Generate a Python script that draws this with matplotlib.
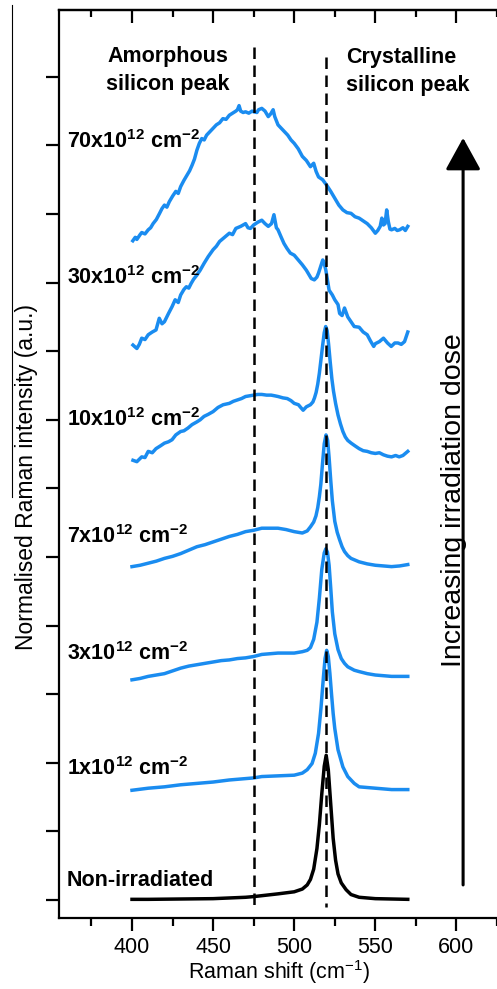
import numpy as np
import matplotlib
matplotlib.use("Agg")
import matplotlib.pyplot as plt
from matplotlib.lines import Line2D

plt.rcParams['font.family'] = ['Liberation Sans', 'DejaVu Sans']
plt.rcParams['mathtext.fontset'] = 'custom'
plt.rcParams['mathtext.rm'] = 'Liberation Sans'
plt.rcParams['mathtext.it'] = 'Liberation Sans:italic'
plt.rcParams['mathtext.bf'] = 'Liberation Sans:bold'

# Raman spectra (stacked, offset)
x_70 = [400.5, 402, 403, 405, 406, 408, 410, 411.5, 413, 415, 417, 418.5, 420, 421.5, 423, 425, 427, 428.5,
        430, 432, 434, 435.5, 437, 438.5, 440, 441.5, 443, 444.5, 446, 448, 450, 452, 454, 456, 458,
        460, 462, 464, 465, 466, 467, 468.5, 470, 472, 474, 475, 477, 478, 480, 482, 484, 485.5, 487,
        488, 490, 492, 494, 496, 498, 500, 502.5, 505, 507.5, 510, 512, 513.5, 515, 517.5, 520, 522.5,
        525, 527.5, 530, 532.5, 535, 537.5, 540, 542.5, 545, 547.5, 550, 551.5, 553, 554, 555, 556,
        557, 558, 559, 560, 562, 563.5, 565, 567, 568.5, 570]
y_70 = [9.61, 9.66, 9.63, 9.70, 9.73, 9.71, 9.77, 9.80, 9.86, 9.92, 10.01, 10.08, 10.13, 10.10, 10.18, 10.26, 10.33, 10.30,
        10.40, 10.49, 10.57, 10.63, 10.71, 10.80, 10.93, 11.03, 11.10, 11.08, 11.15, 11.20, 11.25, 11.30, 11.33, 11.39, 11.38,
        11.44, 11.47, 11.50, 11.52, 11.58, 11.50, 11.48, 11.49, 11.47, 11.50, 11.49, 11.48, 11.52, 11.54, 11.50, 11.42, 11.46, 11.52,
        11.42, 11.30, 11.25, 11.20, 11.15, 11.08, 11.03, 10.95, 10.84, 10.78, 10.69, 10.74, 10.62, 10.54, 10.50, 10.42, 10.33,
        10.23, 10.13, 10.06, 10.02, 10.01, 9.96, 9.94, 9.90, 9.86, 9.80, 9.72, 9.76, 9.82, 9.94, 9.84, 9.86,
        10.06, 9.89, 9.78, 9.77, 9.79, 9.76, 9.77, 9.80, 9.76, 9.82]

x_30 = [400.6, 402, 403, 404.5, 406, 408, 410, 412.5, 414.8, 416.8, 418.5, 420, 422.5, 424.7, 426.6, 428.5,
        430, 432, 433.5, 435, 436.5, 438, 440, 442, 444.4, 447, 450, 452, 454, 457, 460, 462, 464, 467,
        470, 471.5, 473, 475, 477.5, 480, 482, 484, 486, 487.5, 489, 490, 492, 493.7, 495.5, 497.6, 500,
        502.5, 505, 507.5, 509, 510.5, 512.4, 514, 515, 516.5, 517.6, 518.5, 519.5, 521.5, 523.5, 525,
        527, 528, 529.5, 531, 533, 535, 537, 540, 542.5, 545, 547, 549, 550, 552.5, 555, 557.5, 559.8,
        562, 564, 566, 568, 570]
y_30 = [8.09, 8.06, 8.04, 8.10, 8.19, 8.17, 8.24, 8.28, 8.31, 8.48, 8.40, 8.43, 8.55, 8.65, 8.75, 8.71,
        8.82, 8.90, 8.94, 8.92, 8.99, 9.05, 9.11, 9.18, 9.28, 9.38, 9.48, 9.53, 9.60, 9.66, 9.72, 9.70, 9.79, 9.82,
        9.86, 9.80, 9.79, 9.84, 9.88, 9.91, 9.86, 9.82, 9.86, 9.99, 9.80, 9.77, 9.66, 9.57, 9.50, 9.43, 9.40,
        9.33, 9.26, 9.18, 9.12, 9.06, 9.04, 9.08, 9.14, 9.25, 9.33, 9.28, 9.18, 8.89, 8.82, 8.75,
        8.68, 8.55, 8.52, 8.63, 8.50, 8.43, 8.36, 8.35, 8.28, 8.24, 8.15, 8.07, 8.11, 8.14, 8.19, 8.12, 8.07,
        8.12, 8.12, 8.10, 8.14, 8.28]

x_10 = [400.6, 403, 406, 408, 410, 412.5, 414.8, 417.5, 420, 422.5, 424.7, 427, 430, 432, 434.5, 437, 440, 442,
        444.4, 447, 450, 453, 456.2, 460, 462.5, 465, 467.5, 470, 475, 477.5, 480, 483, 485.8, 488, 490, 493,
        495.7, 498, 500, 502.6, 504, 505.5, 507.5, 510, 511.5, 512.5, 513.5, 514.5, 515.5, 516.5, 517.5,
        518.5, 519.4, 520.3, 521.2, 522.2, 523.2, 524.2, 525.5, 527, 528.5, 530, 531.5, 533, 535.1, 537.5,
        540, 542.5, 545, 547.5, 550, 552.5, 555, 557.5, 560, 562.5, 564.7, 567, 570]
y_10 = [6.41, 6.39, 6.46, 6.45, 6.54, 6.52, 6.58, 6.62, 6.66, 6.68, 6.71, 6.78, 6.83, 6.84, 6.88, 6.93, 6.97, 7.00,
        7.05, 7.08, 7.12, 7.18, 7.22, 7.24, 7.27, 7.29, 7.31, 7.34, 7.36, 7.37, 7.37, 7.36, 7.36, 7.35, 7.34, 7.32,
        7.31, 7.28, 7.24, 7.22, 7.18, 7.14, 7.19, 7.22, 7.26, 7.32, 7.40, 7.52, 7.68, 7.88, 8.08,
        8.27, 8.36, 8.30, 8.10, 7.84, 7.60, 7.42, 7.24, 7.07, 6.94, 6.83, 6.75, 6.70, 6.66, 6.62,
        6.58, 6.55, 6.54, 6.52, 6.51, 6.52, 6.49, 6.47, 6.46, 6.48, 6.46, 6.48, 6.54]

x_7 = [400, 405, 410, 415, 420, 425, 430, 435, 440, 445, 450, 455, 460, 465, 470, 475, 480, 485, 490,
       495, 500, 505, 508, 510, 512, 513.4, 514.5, 515.5, 516.4, 517.5, 518.5, 519.6, 520.6, 521.5,
       522.5, 523.5, 525, 526.5, 528, 529.5, 531, 533, 535, 540, 545, 550, 555, 560, 565, 570]
y_7 = [4.86, 4.88, 4.91, 4.94, 4.98, 5.01, 5.05, 5.10, 5.15, 5.18, 5.22, 5.26, 5.30, 5.33, 5.37, 5.39, 5.42, 5.42, 5.42,
       5.40, 5.37, 5.35, 5.38, 5.44, 5.51, 5.60, 5.72, 5.88, 6.06, 6.38, 6.65, 6.78, 6.70, 6.45,
       6.12, 5.82, 5.52, 5.36, 5.25, 5.15, 5.08, 5.02, 4.98, 4.93, 4.90, 4.88, 4.87, 4.86, 4.87, 4.89]

x_3 = [400, 405, 410, 415, 420, 425, 430, 435, 440, 445, 450, 455, 460, 465, 470, 475, 480, 485, 490,
       495, 500, 505, 508, 510, 512, 514, 515.5, 517, 518.5, 519.5, 520.5, 521.5, 522.5, 523.5, 525,
       527, 529, 531, 533, 537, 540, 545, 550, 555, 560, 565, 570]
y_3 = [3.21, 3.23, 3.26, 3.28, 3.30, 3.34, 3.38, 3.41, 3.43, 3.45, 3.47, 3.49, 3.50, 3.52, 3.53, 3.55, 3.58, 3.59, 3.60,
       3.60, 3.60, 3.62, 3.64, 3.68, 3.80, 4.05, 4.40, 4.82, 5.06, 5.12, 5.07, 4.88, 4.55, 4.20, 3.88,
       3.65, 3.52, 3.45, 3.40, 3.35, 3.33, 3.30, 3.28, 3.27, 3.26, 3.26, 3.26]

x_1 = [400, 410, 420, 430, 440, 450, 460, 470, 475, 480, 490, 500, 505, 508, 511, 513,
       515, 516.5, 518, 519, 520, 521, 522, 523, 524, 525, 527, 530, 533, 537, 540, 550, 560, 570]
y_1 = [1.60, 1.63, 1.65, 1.68, 1.70, 1.72, 1.75, 1.77, 1.78, 1.80, 1.81, 1.82, 1.85, 1.90, 1.99, 2.14,
       2.43, 2.80, 3.25, 3.52, 3.64, 3.55, 3.30, 3.00, 2.72, 2.50, 2.19, 1.94, 1.80, 1.70, 1.65, 1.63, 1.61, 1.61]

x_0 = [400, 410, 450, 470, 475, 490, 500, 505, 508, 510, 512, 514, 515.5, 517, 518.5, 519.7,
       521, 522.5, 524, 525.5, 527, 529, 532, 535, 540, 550, 570]
y_0 = [0.01, 0.01, 0.02, 0.04, 0.05, 0.09, 0.12, 0.16, 0.22, 0.30, 0.45, 0.75, 1.10, 1.55, 1.95, 2.11,
       1.90, 1.40, 0.90, 0.58, 0.38, 0.25, 0.15, 0.08, 0.04, 0.02, 0.01]

spectra = [(x_70, y_70), (x_30, y_30), (x_10, y_10), (x_7, y_7), (x_3, y_3), (x_1, y_1)]
dose_labels = ["70x10$^{\\mathbf{12}}$ cm$^{\\mathbf{-2}}$", "30x10$^{\\mathbf{12}}$ cm$^{\\mathbf{-2}}$",
               "10x10$^{\\mathbf{12}}$ cm$^{\\mathbf{-2}}$", "7x10$^{\\mathbf{12}}$ cm$^{\\mathbf{-2}}$",
               "3x10$^{\\mathbf{12}}$ cm$^{\\mathbf{-2}}$", "1x10$^{\\mathbf{12}}$ cm$^{\\mathbf{-2}}$",
               "Non-irradiated"]
label_y = [10.96, 8.98, 6.91, 5.20, 3.50, 1.82, 0.20]

amorphous_peak = 475
crystalline_peak = 519.5

x_major = [400, 450, 500, 550, 600]
x_minor = [375, 425, 475, 525, 575, 625]
y_ticks = list(range(13))

BLUE = '#1a8cf0'

fig = plt.figure(figsize=(4.97, 9.89), dpi=100)
ax = fig.add_axes([59 / 497, 71 / 989, 438 / 497, 908 / 989])

for xs, ys in spectra:
    ax.plot(xs, ys, color=BLUE, lw=2.5, solid_joinstyle='round')
ax.plot(x_0, y_0, color='black', lw=2.5, solid_joinstyle='round')

# peak markers
ax.plot([amorphous_peak, amorphous_peak], [12.43, -0.07], color='black', lw=1.8,
        linestyle=(0, (4.6, 2.6)), zorder=5)
ax.plot([crystalline_peak, crystalline_peak], [12.29, -0.10], color='black', lw=1.8,
        linestyle=(0, (4.6, 2.6)), zorder=5)

ax.set_xlim(355, 614.2)
ax.set_ylim(-0.262, 12.974)

for s in ['left', 'bottom', 'top']:
    ax.spines[s].set_linewidth(1.6)
ax.spines['right'].set_visible(False)

ax.set_xticks(x_major)
ax.set_xticks(x_minor, minor=True)
ax.set_yticks(y_ticks)
ax.tick_params(axis='x', which='major', direction='out', length=9.5, width=1.6,
               labelsize=15.5, pad=4)
ax.tick_params(axis='x', which='minor', direction='out', length=5.5, width=1.6)
ax.tick_params(axis='y', direction='out', length=9.5, width=1.6, labelleft=False)

top = ax.secondary_xaxis('top')
top.set_xticks(x_major)
top.set_xticks(x_minor, minor=True)
top.tick_params(which='major', direction='in', length=9.5, width=1.6, labeltop=False)
top.tick_params(which='minor', direction='in', length=5, width=1.6)
top.spines['top'].set_linewidth(1.6)

for lab, yl in zip(dose_labels, label_y):
    ax.text(359.7, yl, lab, fontsize=15.5, fontweight='bold', ha='left', va='baseline')

ax.text(421.9, 12.22, "Amorphous", fontsize=15.5, fontweight='bold', ha='center', va='baseline')
ax.text(421.9, 11.81, "silicon peak", fontsize=15.5, fontweight='bold', ha='center', va='baseline')
ax.text(532, 12.20, "Crystalline", fontsize=15.5, fontweight='bold', ha='left', va='baseline')
ax.text(532, 11.79, "silicon peak", fontsize=15.5, fontweight='bold', ha='left', va='baseline')

# dose arrow
ax.annotate('', xy=(604.1, 11.11), xytext=(604.1, 0.22),
            arrowprops=dict(arrowstyle='-|>,head_length=0.4,head_width=0.22', lw=2.2,
                            color='black', mutation_scale=50, shrinkA=0, shrinkB=0))

fig.text(454 / 497, 1 - 500 / 989, "Increasing irradiation dose", rotation=90,
         fontsize=20.5, ha='center', va='center')
fig.text(279 / 497, 1 - 979.5 / 989, "Raman shift (cm$^{-1}$)", fontsize=15.5,
         ha='center', va='baseline')
fig.text(27 / 497, 1 - 477 / 989, "Normalised Raman intensity (a.u.)", rotation=90,
         fontsize=16.5, ha='center', va='center')

fig.add_artist(Line2D([12 / 497, 12 / 497], [1 - 5 / 989, 1 - 497 / 989],
                      transform=fig.transFigure, color='black', lw=0.8))

fig.savefig('out.png', dpi=100)
